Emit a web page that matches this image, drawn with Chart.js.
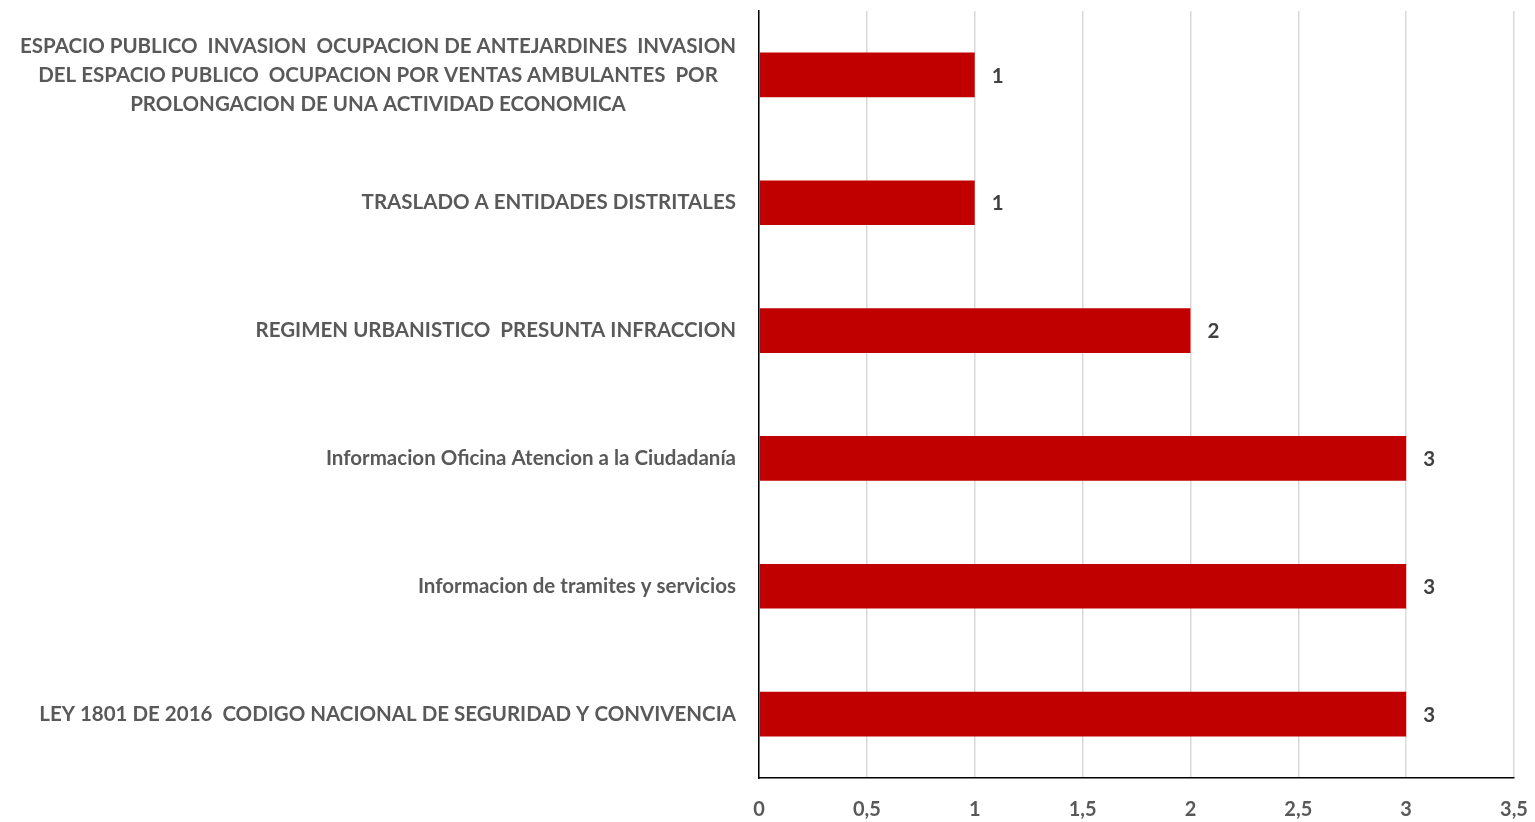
<!DOCTYPE html>
<html>
<head>
<meta charset="utf-8">
<script src="https://cdn.jsdelivr.net/npm/chart.js@4/dist/chart.umd.min.js"></script>
<style>
  html, body { margin: 0; padding: 0; background: #fff; }
  #wrap { width: 1535px; height: 822px; }
</style>
</head>
<body>
<div id="wrap"><canvas id="chart"></canvas></div>
<script>
const categories = [
  ["ESPACIO PUBLICO  INVASION  OCUPACION DE ANTEJARDINES  INVASION", "DEL ESPACIO PUBLICO  OCUPACION POR VENTAS AMBULANTES  POR", "PROLONGACION DE UNA ACTIVIDAD ECONOMICA"],
  ["TRASLADO A ENTIDADES DISTRITALES"],
  ["REGIMEN URBANISTICO  PRESUNTA INFRACCION"],
  ["Informacion Oficina Atencion a la Ciudadanía"],
  ["Informacion de tramites y servicios"],
  ["LEY 1801 DE 2016  CODIGO NACIONAL DE SEGURIDAD Y CONVIVENCIA"]
];
const values = [1, 1, 2, 3, 3, 3];
const xTicks = [0, 0.5, 1, 1.5, 2, 2.5, 3, 3.5];

const FONT = "'Lato', sans-serif";
const labelColor = "#595959";

// draws category labels (centered lines, right edge near the axis) and value labels
const labelPlugin = {
  id: "labels",
  afterDatasetsDraw(chart) {
    const { ctx } = chart;
    const y = chart.scales.y;
    ctx.save();
    ctx.font = "bold 20.5px " + FONT;
    ctx.fillStyle = labelColor;
    ctx.textBaseline = "middle";
    ctx.textAlign = "center";
    const lh = 29;
    categories.forEach((lines, i) => {
      const cy = y.getPixelForValue(i);
      const w = Math.max(...lines.map(l => ctx.measureText(l).width));
      const cx = y.right - 23 - w / 2;
      lines.forEach((l, j) => {
        ctx.fillText(l, cx, cy + (j - (lines.length - 1) / 2) * lh);
      });
    });
    // value labels
    const meta = chart.getDatasetMeta(0);
    ctx.textAlign = "left";
    ctx.fillStyle = "#404040";
    meta.data.forEach((bar, i) => {
      ctx.fillText(String(values[i]), bar.x + 17, bar.y + 1);
    });
    ctx.restore();
  }
};

new Chart(document.getElementById("chart"), {
  type: "bar",
  data: {
    labels: categories,
    datasets: [{
      data: values,
      backgroundColor: "#C00000",
      borderWidth: 0,
      barPercentage: 0.7,
      categoryPercentage: 0.5,
    }],
  },
  options: {
    indexAxis: "y",
    responsive: true,
    maintainAspectRatio: false,
    animation: false,
    layout: { padding: { top: 11, right: 0, bottom: 0, left: 0 } },
    plugins: { legend: { display: false }, tooltip: { enabled: false } },
    scales: {
      x: {
        min: 0,
        max: 3.5,
        afterBuildTicks: (s) => { s.ticks = xTicks.map(v => ({ value: v })); },
        afterFit: (s) => { s.height = 44; s.paddingRight = 21; s.paddingLeft = 0; },
        grid: { color: "#d9d9d9", lineWidth: 1.5, drawTicks: false },
        border: { color: "#000", width: 1.5 },
        ticks: {
          padding: 20,
          color: labelColor,
          font: { family: FONT, size: 20, weight: "bold" },
          callback: (v) => String(v).replace(".", ","),
        },
      },
      y: {
        afterFit: (s) => { s.width = 759; },
        grid: { display: false, drawTicks: false },
        border: { color: "#000", width: 1.5 },
        ticks: { display: false },
      },
    },
  },
  plugins: [labelPlugin],
});
</script>
</body>
</html>
